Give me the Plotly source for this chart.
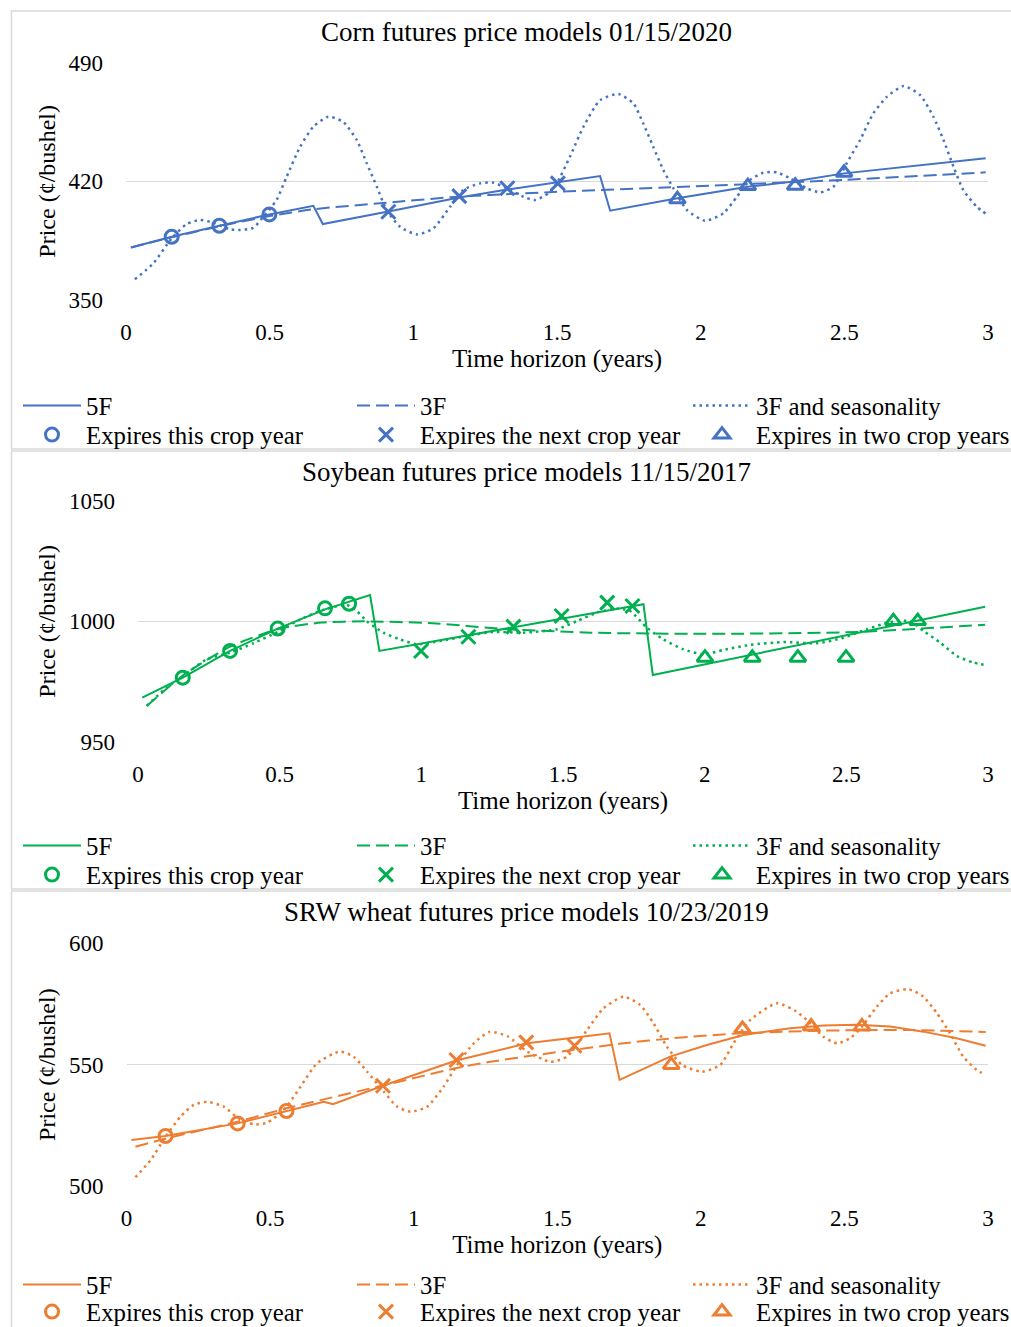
import plotly.graph_objects as go

W, H = 1011, 1327
FONT = "Liberation Serif, Times New Roman, serif"
GRID = "#d9d9d9"

# ---------------- Corn futures price models 01/15/2020 ----------------
corn_5f_t = [0.017, 0.159, 0.325, 0.499, 0.652, 0.685, 0.913, 1.16, 1.327, 1.503,
             1.65, 1.685, 1.919, 2.164, 2.329, 2.499, 2.992]
corn_5f_p = [381.0, 387.3, 393.8, 400.5, 405.6, 394.8, 402.2, 410.5, 415.2, 419.5,
             423.1, 402.7, 410.0, 416.8, 420.0, 424.7, 433.6]

corn_3f_t = [0.017, 0.159, 0.325, 0.5, 0.65, 0.907, 1.128, 1.267, 1.5, 1.917, 2.5, 2.992]
corn_3f_p = [381.0, 387.0, 393.5, 399.5, 403.5, 407.4, 410.6, 412.0, 413.8, 416.6, 420.9, 425.3]

corn_season_t = [0.031, 0.095, 0.159, 0.211, 0.258, 0.304, 0.362, 0.397, 0.443, 0.478,
                 0.524, 0.559, 0.606, 0.652, 0.704, 0.756, 0.803, 0.838, 0.873, 0.907,
                 0.954, 1.012, 1.07, 1.128, 1.174, 1.232, 1.279, 1.33, 1.383, 1.424,
                 1.47, 1.499, 1.545, 1.592, 1.65, 1.714, 1.766, 1.8, 1.835, 1.87,
                 1.905, 1.952, 2.015, 2.079, 2.126, 2.172, 2.218, 2.265, 2.311, 2.369,
                 2.416, 2.462, 2.508, 2.555, 2.601, 2.648, 2.706, 2.764, 2.81, 2.845,
                 2.88, 2.914, 2.961, 2.996]
corn_season_p = [362.2, 371.6, 386.4, 394.8, 397.2, 395.6, 391.7, 391.3, 392.6, 399.1,
                 409.0, 422.7, 440.4, 452.2, 458.1, 455.1, 444.4, 430.6, 416.8, 403.1,
                 393.2, 388.7, 392.3, 405.0, 414.9, 418.8, 419.2, 415.5, 410.9, 409.0,
                 412.9, 418.8, 434.5, 452.2, 467.9, 471.5, 466.0, 454.2, 440.4, 426.7,
                 415.9, 403.1, 396.8, 401.1, 410.9, 420.8, 425.1, 425.3, 421.8, 415.9,
                 413.5, 416.8, 430.6, 444.4, 460.1, 469.9, 476.2, 470.9, 458.1, 444.4,
                 428.6, 414.9, 405.0, 400.5]

corn_this_t = [0.159, 0.325, 0.499]
corn_this_p = [387.3, 393.8, 400.5]
corn_next_t = [0.913, 1.16, 1.327, 1.503]
corn_next_p = [402.1, 411.3, 415.9, 418.8]
corn_two_t = [1.919, 2.164, 2.329, 2.499]
corn_two_p = [409.4, 417.2, 417.4, 425.1]

# ---------------- Soybean futures price models 11/15/2017 ----------------
soy_5f_t = [0.015, 0.158, 0.325, 0.493, 0.66, 0.819, 0.852, 1.784, 1.817, 2.99]
soy_5f_p = [968.3, 976.6, 987.7, 997.0, 1005.0, 1010.9, 987.7, 1007.1, 977.7, 1006.1]

soy_3f_t = [0.031, 0.158, 0.325, 0.5, 0.65, 0.8, 1.04, 1.297, 1.6, 2.0, 2.54, 2.99]
soy_3f_p = [964.8, 977.5, 989.5, 997.0, 999.5, 1000.0, 999.2, 996.8, 995.3, 994.8, 995.6, 998.6]

soy_season_t = [0.031, 0.101, 0.158, 0.242, 0.325, 0.407, 0.493, 0.572, 0.66, 0.737,
                0.772, 0.807, 0.866, 0.925, 0.984, 1.066, 1.16, 1.254, 1.36, 1.478,
                1.549, 1.619, 1.69, 1.737, 1.796, 1.854, 1.925, 1.995, 2.066, 2.16,
                2.278, 2.396, 2.49, 2.572, 2.654, 2.725, 2.772, 2.831, 2.89, 2.948, 2.996]
soy_season_p = [964.9, 972.5, 977.1, 984.2, 987.0, 990.9, 995.6, 1000.8, 1005.0, 1006.8,
                1004.3, 1000.1, 995.3, 992.5, 990.5, 991.8, 993.9, 995.6, 995.3, 996.7,
                1000.1, 1003.6, 1005.3, 1004.3, 997.4, 992.5, 988.4, 986.3, 988.1, 990.2,
                991.4, 990.9, 993.2, 996.7, 999.7, 1000.1, 996.0, 991.2, 985.6, 982.9, 981.7]

soy_this_t = [0.158, 0.325, 0.493, 0.66, 0.745]
soy_this_p = [976.6, 987.7, 997.0, 1005.4, 1007.3]
soy_next_t = [0.999, 1.166, 1.325, 1.495, 1.656, 1.745]
soy_next_p = [987.7, 993.6, 997.8, 1002.2, 1007.8, 1006.4]
soy_two_t = [2.001, 2.168, 2.329, 2.499, 2.666, 2.752]
soy_two_p = [984.9, 984.9, 984.9, 984.9, 1000.1, 1000.1]

# ---------------- SRW wheat futures price models 10/23/2019 ----------------
wheat_5f_t = [0.017, 0.136, 0.387, 0.557, 0.687, 0.719, 0.893, 1.145, 1.395, 1.557,
              1.682, 1.717, 1.893, 2.021, 2.149, 2.311, 2.427, 2.543, 2.659, 2.775,
              2.891, 2.992]
wheat_5f_p = [519.0, 520.6, 525.8, 530.9, 534.7, 533.7, 541.3, 551.6, 558.8, 561.1,
              562.9, 543.7, 553.3, 558.1, 562.2, 565.0, 566.1, 566.4, 565.7, 563.6,
              560.9, 557.8]

wheat_3f_t = [0.031, 0.136, 0.387, 0.557, 0.9, 1.145, 1.267, 1.557, 1.731, 1.905,
              2.137, 2.427, 2.717, 2.992]
wheat_3f_p = [516.2, 519.5, 526.5, 532.0, 541.6, 548.5, 551.2, 556.1, 558.8, 560.9,
              562.9, 564.0, 564.3, 563.5]

wheat_season_t = [0.031, 0.084, 0.136, 0.188, 0.234, 0.281, 0.339, 0.385, 0.443, 0.49,
                  0.548, 0.606, 0.664, 0.743, 0.791, 0.838, 0.896, 0.942, 0.989, 1.047,
                  1.104, 1.151, 1.209, 1.264, 1.33, 1.395, 1.476, 1.534, 1.604, 1.661,
                  1.731, 1.789, 1.835, 1.882, 1.934, 2.004, 2.068, 2.114, 2.172, 2.265,
                  2.334, 2.381, 2.427, 2.474, 2.52, 2.561, 2.613, 2.659, 2.723, 2.775,
                  2.822, 2.868, 2.914, 2.961, 2.99]
wheat_season_p = [503.6, 510.7, 520.3, 528.6, 533.4, 534.7, 532.7, 528.3, 525.4, 526.1,
                  531.3, 540.9, 550.6, 555.4, 553.3, 547.1, 538.9, 532.7, 530.6, 532.7,
                  540.9, 549.9, 558.8, 563.5, 561.5, 555.4, 551.2, 553.3, 564.3, 573.2,
                  578.0, 574.6, 567.1, 557.4, 549.9, 547.1, 549.9, 558.8, 568.4, 575.3,
                  571.8, 567.1, 561.5, 558.8, 560.9, 565.7, 573.9, 579.4, 581.1, 578.0,
                  571.2, 562.9, 553.3, 547.8, 545.8]

wheat_this_t = [0.136, 0.387, 0.557]
wheat_this_p = [520.6, 525.8, 530.9]
wheat_next_t = [0.893, 1.149, 1.392, 1.56]
wheat_next_p = [541.3, 551.9, 559.2, 557.8]
wheat_two_t = [1.897, 2.145, 2.384, 2.561]
wheat_two_p = [549.9, 564.7, 565.7, 565.7]

x_ticks = [0, 0.5, 1, 1.5, 2, 2.5, 3]
series_names = ["5F", "3F", "3F and seasonality",
                "Expires this crop year", "Expires the next crop year", "Expires in two crop years"]

panels = [
    dict(title="Corn futures price models 01/15/2020", color="#4472C4",
         box=(11, 449), plot_x=(126, 988), plot_y=(62.7, 300), yticks=[350, 420, 490],
         title_y=32, legend_rows=(406, 435),
         lines=[(corn_5f_t, corn_5f_p), (corn_3f_t, corn_3f_p), (corn_season_t, corn_season_p)],
         points=[(corn_this_t, corn_this_p), (corn_next_t, corn_next_p), (corn_two_t, corn_two_p)]),
    dict(title="Soybean futures price models 11/15/2017", color="#00B050",
         box=(451, 889), plot_x=(138, 988), plot_y=(501, 741.7), yticks=[950, 1000, 1050],
         title_y=472, legend_rows=(846, 875),
         lines=[(soy_5f_t, soy_5f_p), (soy_3f_t, soy_3f_p), (soy_season_t, soy_season_p)],
         points=[(soy_this_t, soy_this_p), (soy_next_t, soy_next_p), (soy_two_t, soy_two_p)]),
    dict(title="SRW wheat futures price models 10/23/2019", color="#ED7D31",
         box=(891, 1340), plot_x=(126.5, 988), plot_y=(943.3, 1186), yticks=[500, 550, 600],
         title_y=912, legend_rows=(1285, 1312),
         lines=[(wheat_5f_t, wheat_5f_p), (wheat_3f_t, wheat_3f_p), (wheat_season_t, wheat_season_p)],
         points=[(wheat_this_t, wheat_this_p), (wheat_next_t, wheat_next_p), (wheat_two_t, wheat_two_p)]),
]

line_styles = [dict(dash="solid", shape="linear"),
               dict(dash="13px,6px", shape="spline"),
               dict(dash="2.5px,4px", shape="spline")]
marker_symbols = ["circle-open", "x-thin-open", "triangle-up-open"]
marker_sizes = [13, 14, 14]
legend_cols = [18, 352, 688]


def fx(px):
    return px / W


def fy(py):
    return 1 - py / H


fig = go.Figure()
layout = dict(width=W, height=H, margin=dict(l=0, r=0, t=0, b=0, autoexpand=False),
              paper_bgcolor="white", plot_bgcolor="white",
              font=dict(family=FONT, size=23, color="#000000"),
              showlegend=True, shapes=[], annotations=[])

legend_index = 0
for i, pn in enumerate(panels):
    sfx = "" if i == 0 else str(i + 1)
    xa, ya = "x" + sfx, "y" + sfx
    col = pn["color"]

    # axes
    layout["xaxis" + sfx] = dict(
        domain=[fx(pn["plot_x"][0]), fx(pn["plot_x"][1])], anchor=ya, range=[0, 3],
        tickvals=x_ticks, showgrid=False, zeroline=False, showline=False, automargin=False,
        ticks="", ticklabelstandoff=16, tickfont=dict(size=23),
        title=dict(text="Time horizon (years)", font=dict(size=25), standoff=2))
    layout["yaxis" + sfx] = dict(
        domain=[fy(pn["plot_y"][1]), fy(pn["plot_y"][0])], anchor=xa,
        range=[pn["yticks"][0], pn["yticks"][-1]], tickvals=pn["yticks"], automargin=False,
        showgrid=True, gridcolor=GRID, gridwidth=1.3, zeroline=False, showline=False,
        ticks="", ticklabelstandoff=22, tickfont=dict(size=23),
        title=dict(text="Price (¢/bushel)", font=dict(size=24), standoff=6))

    # panel frame and title
    layout["shapes"].append(dict(type="rect", xref="paper", yref="paper",
                                 x0=fx(11.5), x1=fx(1030), y0=fy(pn["box"][1]), y1=fy(pn["box"][0]),
                                 line=dict(color=GRID, width=1.5), fillcolor="rgba(0,0,0,0)",
                                 layer="below"))
    layout["annotations"].append(dict(text=pn["title"], xref="paper", yref="paper",
                                      x=fx(526), y=fy(pn["title_y"]), xanchor="center",
                                      yanchor="middle", showarrow=False, font=dict(size=27)))

    # model curves
    for k, (t, p) in enumerate(pn["lines"]):
        legend_index += 1
        lname = "legend" if legend_index == 1 else "legend%d" % legend_index
        fig.add_trace(go.Scatter(
            x=t, y=p, mode="lines", name=series_names[k], xaxis=xa, yaxis=ya,
            line=dict(color=col, width=2 if k < 2 else 2.5, dash=line_styles[k]["dash"],
                      shape=line_styles[k]["shape"], smoothing=0.6),
            legend=lname, hoverinfo="skip"))
        layout[lname] = dict(x=fx(legend_cols[k]), y=fy(pn["legend_rows"][0]),
                             xanchor="left", yanchor="middle", orientation="h",
                             bgcolor="rgba(0,0,0,0)", borderwidth=0, itemwidth=58,
                             font=dict(size=24.8))

    # contract markers
    for k, (t, p) in enumerate(pn["points"]):
        legend_index += 1
        lname = "legend%d" % legend_index
        fig.add_trace(go.Scatter(
            x=t, y=p, mode="markers", name=series_names[3 + k], xaxis=xa, yaxis=ya,
            marker=dict(symbol=marker_symbols[k], size=marker_sizes[k], color=col,
                        line=dict(color=col, width=3)),
            legend=lname, hoverinfo="skip"))
        layout[lname] = dict(x=fx(legend_cols[k]), y=fy(pn["legend_rows"][1]),
                             xanchor="left", yanchor="middle", orientation="h",
                             bgcolor="rgba(0,0,0,0)", borderwidth=0, itemwidth=58,
                             font=dict(size=24.8))

fig.update_layout(layout)
# the page body gets no margin so the figure fills the window exactly
fig.write_html("out.html",
               post_script="document.body.style.margin='0';document.body.style.overflow='hidden';")
